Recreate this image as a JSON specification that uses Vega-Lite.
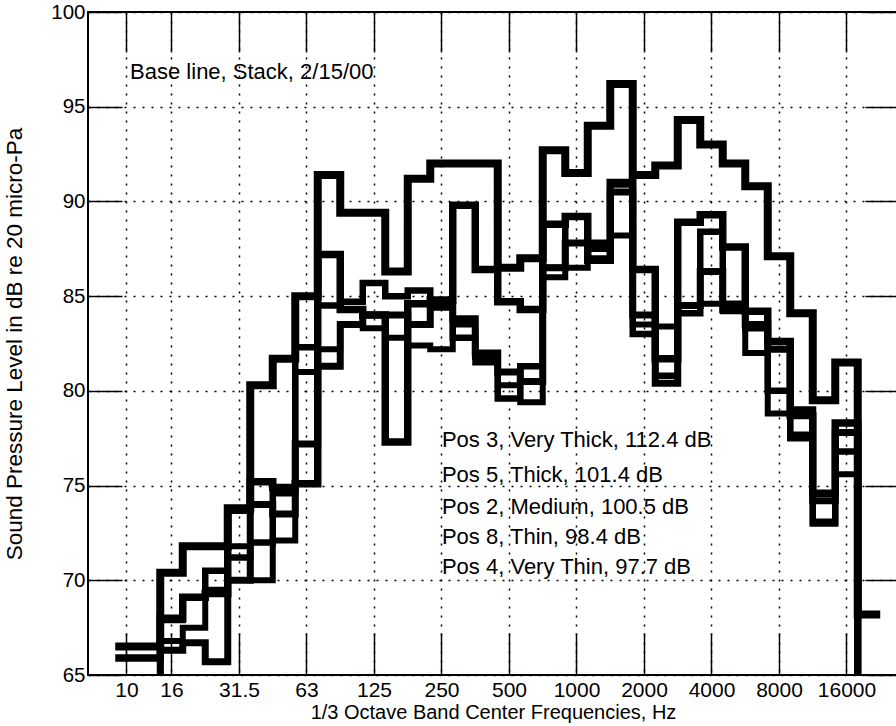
{
  "$schema": "https://vega.github.io/schema/vega-lite/v6.json",
  "width": 810,
  "height": 663,
  "autosize": "none",
  "padding": {"left": 88, "top": 12, "right": 0, "bottom": 51},
  "background": "white",
  "config": {
    "view": {"stroke": "black", "strokeWidth": 2},
    "font": "Liberation Sans",
    "axis": {"domain": false}
  },
  "datasets": {
    "levels": [
      {"pos": "Pos 3", "band": 10, "level": 66.5}, {"pos": "Pos 3", "band": 11, "level": 66.5}, {"pos": "Pos 3", "band": 12, "level": 70.4}, {"pos": "Pos 3", "band": 13, "level": 71.8}, {"pos": "Pos 3", "band": 14, "level": 71.8}, {"pos": "Pos 3", "band": 15, "level": 73.8}, {"pos": "Pos 3", "band": 16, "level": 80.3}, {"pos": "Pos 3", "band": 17, "level": 81.7}, {"pos": "Pos 3", "band": 18, "level": 85.0}, {"pos": "Pos 3", "band": 19, "level": 91.4}, {"pos": "Pos 3", "band": 20, "level": 89.4}, {"pos": "Pos 3", "band": 21, "level": 89.4}, {"pos": "Pos 3", "band": 22, "level": 86.3}, {"pos": "Pos 3", "band": 23, "level": 91.2}, {"pos": "Pos 3", "band": 24, "level": 92.0}, {"pos": "Pos 3", "band": 25, "level": 92.0}, {"pos": "Pos 3", "band": 26, "level": 92.0}, {"pos": "Pos 3", "band": 27, "level": 86.5}, {"pos": "Pos 3", "band": 28, "level": 87.0}, {"pos": "Pos 3", "band": 29, "level": 92.7}, {"pos": "Pos 3", "band": 30, "level": 91.5}, {"pos": "Pos 3", "band": 31, "level": 94.0}, {"pos": "Pos 3", "band": 32, "level": 96.2}, {"pos": "Pos 3", "band": 33, "level": 91.4}, {"pos": "Pos 3", "band": 34, "level": 91.9}, {"pos": "Pos 3", "band": 35, "level": 94.3}, {"pos": "Pos 3", "band": 36, "level": 93.0}, {"pos": "Pos 3", "band": 37, "level": 92.0}, {"pos": "Pos 3", "band": 38, "level": 90.8}, {"pos": "Pos 3", "band": 39, "level": 87.1}, {"pos": "Pos 3", "band": 40, "level": 84.1}, {"pos": "Pos 3", "band": 41, "level": 79.5}, {"pos": "Pos 3", "band": 42, "level": 81.5}, {"pos": "Pos 3", "band": 43, "level": 68.2}, {"pos": "Pos 3", "band": 44, "level": 68.2},

      {"pos": "Pos 5", "band": 10, "level": 65.9}, {"pos": "Pos 5", "band": 11, "level": 65.9}, {"pos": "Pos 5", "band": 12, "level": 68.0}, {"pos": "Pos 5", "band": 13, "level": 69.1}, {"pos": "Pos 5", "band": 14, "level": 69.3}, {"pos": "Pos 5", "band": 15, "level": 73.7}, {"pos": "Pos 5", "band": 16, "level": 75.2}, {"pos": "Pos 5", "band": 17, "level": 74.9}, {"pos": "Pos 5", "band": 18, "level": 75.1}, {"pos": "Pos 5", "band": 19, "level": 87.2}, {"pos": "Pos 5", "band": 20, "level": 84.3}, {"pos": "Pos 5", "band": 21, "level": 84.0}, {"pos": "Pos 5", "band": 22, "level": 77.3}, {"pos": "Pos 5", "band": 23, "level": 84.6}, {"pos": "Pos 5", "band": 24, "level": 84.8}, {"pos": "Pos 5", "band": 25, "level": 89.8}, {"pos": "Pos 5", "band": 26, "level": 86.4}, {"pos": "Pos 5", "band": 27, "level": 84.7}, {"pos": "Pos 5", "band": 28, "level": 84.3}, {"pos": "Pos 5", "band": 29, "level": 88.8}, {"pos": "Pos 5", "band": 30, "level": 89.2}, {"pos": "Pos 5", "band": 31, "level": 86.9}, {"pos": "Pos 5", "band": 32, "level": 91.0}, {"pos": "Pos 5", "band": 33, "level": 86.4}, {"pos": "Pos 5", "band": 34, "level": 81.7}, {"pos": "Pos 5", "band": 35, "level": 88.9}, {"pos": "Pos 5", "band": 36, "level": 89.3}, {"pos": "Pos 5", "band": 37, "level": 87.6}, {"pos": "Pos 5", "band": 38, "level": 84.2}, {"pos": "Pos 5", "band": 39, "level": 82.6}, {"pos": "Pos 5", "band": 40, "level": 78.7}, {"pos": "Pos 5", "band": 41, "level": 74.6}, {"pos": "Pos 5", "band": 42, "level": 78.3}, {"pos": "Pos 5", "band": 43, "level": 60}, {"pos": "Pos 5", "band": 44, "level": 60},

      {"pos": "Pos 2", "band": 10, "level": 64.0}, {"pos": "Pos 2", "band": 11, "level": 64.0}, {"pos": "Pos 2", "band": 12, "level": 66.3}, {"pos": "Pos 2", "band": 13, "level": 66.7}, {"pos": "Pos 2", "band": 14, "level": 65.7}, {"pos": "Pos 2", "band": 15, "level": 70.0}, {"pos": "Pos 2", "band": 16, "level": 74.0}, {"pos": "Pos 2", "band": 17, "level": 73.5}, {"pos": "Pos 2", "band": 18, "level": 77.2}, {"pos": "Pos 2", "band": 19, "level": 81.3}, {"pos": "Pos 2", "band": 20, "level": 83.5}, {"pos": "Pos 2", "band": 21, "level": 84.0}, {"pos": "Pos 2", "band": 22, "level": 84.0}, {"pos": "Pos 2", "band": 23, "level": 83.5}, {"pos": "Pos 2", "band": 24, "level": 84.5}, {"pos": "Pos 2", "band": 25, "level": 83.8}, {"pos": "Pos 2", "band": 26, "level": 82.0}, {"pos": "Pos 2", "band": 27, "level": 81.0}, {"pos": "Pos 2", "band": 28, "level": 80.5}, {"pos": "Pos 2", "band": 29, "level": 86.5}, {"pos": "Pos 2", "band": 30, "level": 87.8}, {"pos": "Pos 2", "band": 31, "level": 87.8}, {"pos": "Pos 2", "band": 32, "level": 90.5}, {"pos": "Pos 2", "band": 33, "level": 84.0}, {"pos": "Pos 2", "band": 34, "level": 80.4}, {"pos": "Pos 2", "band": 35, "level": 84.5}, {"pos": "Pos 2", "band": 36, "level": 86.3}, {"pos": "Pos 2", "band": 37, "level": 84.3}, {"pos": "Pos 2", "band": 38, "level": 83.5}, {"pos": "Pos 2", "band": 39, "level": 82.2}, {"pos": "Pos 2", "band": 40, "level": 79.0}, {"pos": "Pos 2", "band": 41, "level": 74.2}, {"pos": "Pos 2", "band": 42, "level": 77.8}, {"pos": "Pos 2", "band": 43, "level": 60}, {"pos": "Pos 2", "band": 44, "level": 60},

      {"pos": "Pos 8", "band": 10, "level": 64.0}, {"pos": "Pos 8", "band": 11, "level": 64.0}, {"pos": "Pos 8", "band": 12, "level": 67.9}, {"pos": "Pos 8", "band": 13, "level": 69.1}, {"pos": "Pos 8", "band": 14, "level": 70.5}, {"pos": "Pos 8", "band": 15, "level": 71.2}, {"pos": "Pos 8", "band": 16, "level": 72.0}, {"pos": "Pos 8", "band": 17, "level": 74.6}, {"pos": "Pos 8", "band": 18, "level": 82.3}, {"pos": "Pos 8", "band": 19, "level": 84.5}, {"pos": "Pos 8", "band": 20, "level": 84.7}, {"pos": "Pos 8", "band": 21, "level": 85.7}, {"pos": "Pos 8", "band": 22, "level": 85.0}, {"pos": "Pos 8", "band": 23, "level": 85.3}, {"pos": "Pos 8", "band": 24, "level": 84.4}, {"pos": "Pos 8", "band": 25, "level": 82.8}, {"pos": "Pos 8", "band": 26, "level": 81.8}, {"pos": "Pos 8", "band": 27, "level": 79.6}, {"pos": "Pos 8", "band": 28, "level": 81.3}, {"pos": "Pos 8", "band": 29, "level": 86.5}, {"pos": "Pos 8", "band": 30, "level": 89.2}, {"pos": "Pos 8", "band": 31, "level": 87.5}, {"pos": "Pos 8", "band": 32, "level": 90.9}, {"pos": "Pos 8", "band": 33, "level": 83.0}, {"pos": "Pos 8", "band": 34, "level": 80.8}, {"pos": "Pos 8", "band": 35, "level": 84.1}, {"pos": "Pos 8", "band": 36, "level": 88.4}, {"pos": "Pos 8", "band": 37, "level": 84.6}, {"pos": "Pos 8", "band": 38, "level": 83.3}, {"pos": "Pos 8", "band": 39, "level": 80.0}, {"pos": "Pos 8", "band": 40, "level": 77.5}, {"pos": "Pos 8", "band": 41, "level": 73.0}, {"pos": "Pos 8", "band": 42, "level": 76.8}, {"pos": "Pos 8", "band": 43, "level": 60}, {"pos": "Pos 8", "band": 44, "level": 60},

      {"pos": "Pos 4", "band": 10, "level": 64.0}, {"pos": "Pos 4", "band": 11, "level": 64.0}, {"pos": "Pos 4", "band": 12, "level": 66.8}, {"pos": "Pos 4", "band": 13, "level": 67.5}, {"pos": "Pos 4", "band": 14, "level": 69.5}, {"pos": "Pos 4", "band": 15, "level": 71.8}, {"pos": "Pos 4", "band": 16, "level": 70.0}, {"pos": "Pos 4", "band": 17, "level": 72.1}, {"pos": "Pos 4", "band": 18, "level": 81.0}, {"pos": "Pos 4", "band": 19, "level": 82.2}, {"pos": "Pos 4", "band": 20, "level": 83.5}, {"pos": "Pos 4", "band": 21, "level": 83.3}, {"pos": "Pos 4", "band": 22, "level": 82.8}, {"pos": "Pos 4", "band": 23, "level": 82.4}, {"pos": "Pos 4", "band": 24, "level": 82.2}, {"pos": "Pos 4", "band": 25, "level": 83.5}, {"pos": "Pos 4", "band": 26, "level": 81.5}, {"pos": "Pos 4", "band": 27, "level": 80.3}, {"pos": "Pos 4", "band": 28, "level": 79.4}, {"pos": "Pos 4", "band": 29, "level": 86.0}, {"pos": "Pos 4", "band": 30, "level": 86.5}, {"pos": "Pos 4", "band": 31, "level": 87.0}, {"pos": "Pos 4", "band": 32, "level": 88.2}, {"pos": "Pos 4", "band": 33, "level": 83.5}, {"pos": "Pos 4", "band": 34, "level": 83.4}, {"pos": "Pos 4", "band": 35, "level": 84.5}, {"pos": "Pos 4", "band": 36, "level": 84.6}, {"pos": "Pos 4", "band": 37, "level": 84.2}, {"pos": "Pos 4", "band": 38, "level": 82.0}, {"pos": "Pos 4", "band": 39, "level": 78.8}, {"pos": "Pos 4", "band": 40, "level": 77.7}, {"pos": "Pos 4", "band": 41, "level": 73.1}, {"pos": "Pos 4", "band": 42, "level": 75.6}, {"pos": "Pos 4", "band": 43, "level": 60}, {"pos": "Pos 4", "band": 44, "level": 60}
    ],
    "notes": [
      {"band": 10.66, "level": 96.83, "text": "Base line, Stack, 2/15/00"},
      {"band": 24.52, "level": 77.4, "text": "Pos 3, Very Thick, 112.4 dB"},
      {"band": 24.52, "level": 75.55, "text": "Pos 5, Thick, 101.4 dB"},
      {"band": 24.52, "level": 73.86, "text": "Pos 2, Medium, 100.5 dB"},
      {"band": 24.52, "level": 72.28, "text": "Pos 8, Thin, 98.4 dB"},
      {"band": 24.52, "level": 70.7, "text": "Pos 4, Very Thin, 97.7 dB"}
    ]
  },
  "layer": [
    {
      "data": {"name": "levels"},
      "mark": {"type": "line", "interpolate": "step-after", "color": "black", "strokeJoin": "miter", "strokeCap": "butt", "clip": true},
      "encoding": {
        "x": {
          "field": "band", "type": "quantitative",
          "scale": {"domain": [8.789, 44.789], "nice": false, "zero": false},
          "axis": {
            "orient": "bottom",
            "values": [10.5, 12.5, 15.5, 18.5, 21.5, 24.5, 27.5, 30.5, 33.5, 36.5, 39.5, 42.5],
            "labelExpr": "{'10.5':'10','12.5':'16','15.5':'31.5','18.5':'63','21.5':'125','24.5':'250','27.5':'500','30.5':'1000','33.5':'2000','36.5':'4000','39.5':'8000','42.5':'16000'}[datum.value]",
            "tickSize": -42, "tickColor": "black", "tickWidth": 1.5,
            "labelPadding": 46, "labelFontSize": 21, "labelColor": "black", "labelFont": "Liberation Sans",
            "grid": true, "gridColor": "black", "gridDash": [2, 7], "gridWidth": 1.5, "gridOpacity": 1,
            "title": "1/3 Octave Band Center Frequencies, Hz", "titleFontSize": 20, "titleFontWeight": "normal", "titleColor": "black", "titlePadding": 2, "titleFont": "Liberation Sans"
          }
        },
        "y": {
          "field": "level", "type": "quantitative",
          "scale": {"domain": [65, 100], "nice": false, "zero": false},
          "axis": {
            "orient": "left",
            "values": [65, 70, 75, 80, 85, 90, 95, 100],
            "tickSize": -34, "tickColor": "black", "tickWidth": 1.5,
            "labelPadding": 37, "labelFontSize": 20.5, "labelColor": "black", "labelFont": "Liberation Sans",
            "grid": true, "gridColor": "black", "gridDash": [2, 7], "gridWidth": 1.5, "gridOpacity": 1,
            "title": "Sound Pressure Level in dB re 20 micro-Pa", "titleFontSize": 22.5, "titleFontWeight": "normal", "titleColor": "black", "titlePadding": 24, "titleFont": "Liberation Sans"
          }
        },
        "strokeWidth": {
          "field": "pos", "type": "ordinal",
          "scale": {"domain": ["Pos 3", "Pos 5", "Pos 2", "Pos 8", "Pos 4"], "range": [8, 6, 3.8, 2.2, 1.2]},
          "legend": null
        }
      }
    },
    {
      "data": {"name": "levels"},
      "mark": {"type": "line", "opacity": 0},
      "encoding": {
        "x": {
          "field": "band", "type": "quantitative",
          "axis": {"orient": "top", "values": [10.5, 12.5, 15.5, 18.5, 21.5, 24.5, 27.5, 30.5, 33.5, 36.5, 39.5, 42.5], "labels": false, "tickSize": -40, "tickColor": "black", "tickWidth": 1.5, "grid": false, "title": null}
        },
        "y": {
          "field": "level", "type": "quantitative",
          "axis": {"orient": "right", "values": [65, 70, 75, 80, 85, 90, 95, 100], "labels": false, "tickSize": -33, "tickColor": "black", "tickWidth": 1.5, "grid": false, "title": null}
        },
        "detail": {"field": "pos"}
      }
    },
    {
      "data": {"name": "notes"},
      "mark": {"type": "text", "align": "left", "baseline": "middle", "fontSize": 22, "font": "Liberation Sans", "color": "black"},
      "encoding": {
        "x": {"field": "band", "type": "quantitative", "axis": null},
        "y": {"field": "level", "type": "quantitative", "axis": null},
        "text": {"field": "text"}
      }
    }
  ],
  "resolve": {"axis": {"x": "independent", "y": "independent"}}
}
